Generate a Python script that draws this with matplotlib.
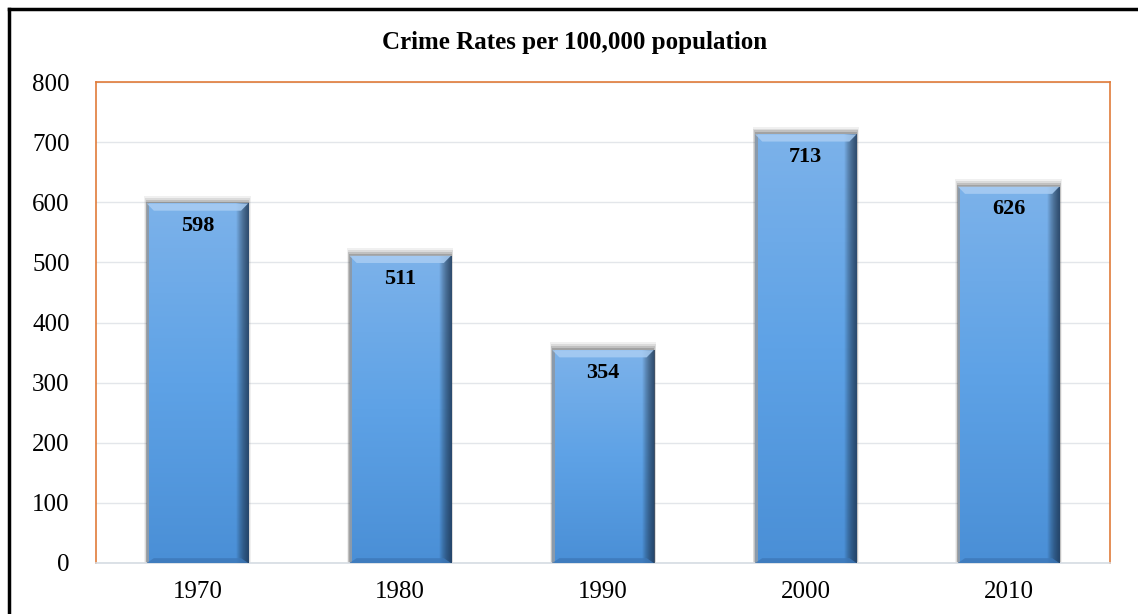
import matplotlib.pyplot as plt
import numpy as np
from matplotlib.colors import LinearSegmentedColormap
from matplotlib.patches import Rectangle, Polygon

years = ["1970", "1980", "1990", "2000", "2010"]
rates = [598, 511, 354, 713, 626]

plt.rcParams['font.family'] = ['Liberation Serif', 'DejaVu Serif']

fig = plt.figure(figsize=(11.38, 6.14), dpi=100)
ax = fig.add_axes([0.0844, 0.0831, 0.891, 0.7833])

x = np.arange(len(years))
width = 0.5
ax.set_xlim(-0.5, len(years) - 0.5)
ax.set_ylim(0, 800)

body = LinearSegmentedColormap.from_list("body", ["#4a8fd6", "#5ea2e6", "#7cb2ea"])
side = LinearSegmentedColormap.from_list("side", ["#00000000", "#1c3350cc"])

for xi, v in zip(x, rates):
    left = xi - width / 2
    # soft shadow above/around bar
    for k, a in enumerate([0.08, 0.12, 0.18, 0.25]):
        pad = (4 - k) * 0.005
        ax.add_patch(Rectangle((left - pad * 0.6, 0), width + pad * 1.2, v + (4 - k) * 3.2,
                               facecolor="#4a4a4a", alpha=a, edgecolor="none", zorder=2))
    rect = Rectangle((left, 0), width, v, facecolor="none", edgecolor="none", zorder=3)
    ax.add_patch(rect)
    grad = np.linspace(0, 1, 256).reshape(-1, 1)
    im = ax.imshow(grad, cmap=body, extent=[left, left + width, 0, v], origin="lower",
                   aspect="auto", zorder=3)
    im.set_clip_path(rect)
    # dark right edge
    hgrad = np.linspace(0, 1, 64).reshape(1, -1)
    sw = 0.06
    im2 = ax.imshow(hgrad, cmap=side, extent=[left + width - sw, left + width, 0, v],
                    aspect="auto", zorder=4)
    im2.set_clip_path(rect)
    # grey left edge
    ax.add_patch(Rectangle((left, 0), 0.012, v, facecolor="#8a9aab", edgecolor="none", zorder=4))
    # top bevel
    bh = 12
    bw = 0.035
    ax.add_patch(Polygon([(left, v), (left + width, v), (left + width - bw, v - bh), (left + bw, v - bh)],
                         closed=True, facecolor="#a9cdf3", edgecolor="none", alpha=0.85, zorder=5))
    # bottom bevel
    ax.add_patch(Polygon([(left, 0), (left + width, 0), (left + width - bw, 8), (left + bw, 8)],
                         closed=True, facecolor="#3d78b8", edgecolor="none", alpha=0.8, zorder=5))
    ax.text(xi, v - 38, str(v), ha="center", va="center", fontsize=16, fontweight="bold",
            color="black", zorder=6)

ax.set_xticks(x)
ax.set_xticklabels(years)
ax.set_yticks(np.arange(0, 801, 100))
ax.tick_params(axis="both", length=0, labelsize=18, pad=13)
ax.tick_params(axis="y", pad=19)
ax.grid(axis="y", color="#e3e6ea", linewidth=1, zorder=0)
ax.set_axisbelow(True)

for s in ["left", "top", "right"]:
    ax.spines[s].set_color("#e07b39")
    ax.spines[s].set_linewidth(1.2)
ax.spines["bottom"].set_color("#d6dce3")
ax.spines["bottom"].set_linewidth(1.2)

fig.text(0.505, 0.931, "Crime Rates per 100,000 population", ha="center", va="center",
         fontsize=18, fontweight="bold")

# outer frame of the original chart (only top and left visible)
fig.add_artist(plt.Line2D([0.0079, 0.0079], [0, 0.9853], color="black", linewidth=2.5,
                          transform=fig.transFigure))
fig.add_artist(plt.Line2D([0.0079, 1], [0.9853, 0.9853], color="black", linewidth=2.5,
                          transform=fig.transFigure))

fig.savefig("out.png", dpi=100)
